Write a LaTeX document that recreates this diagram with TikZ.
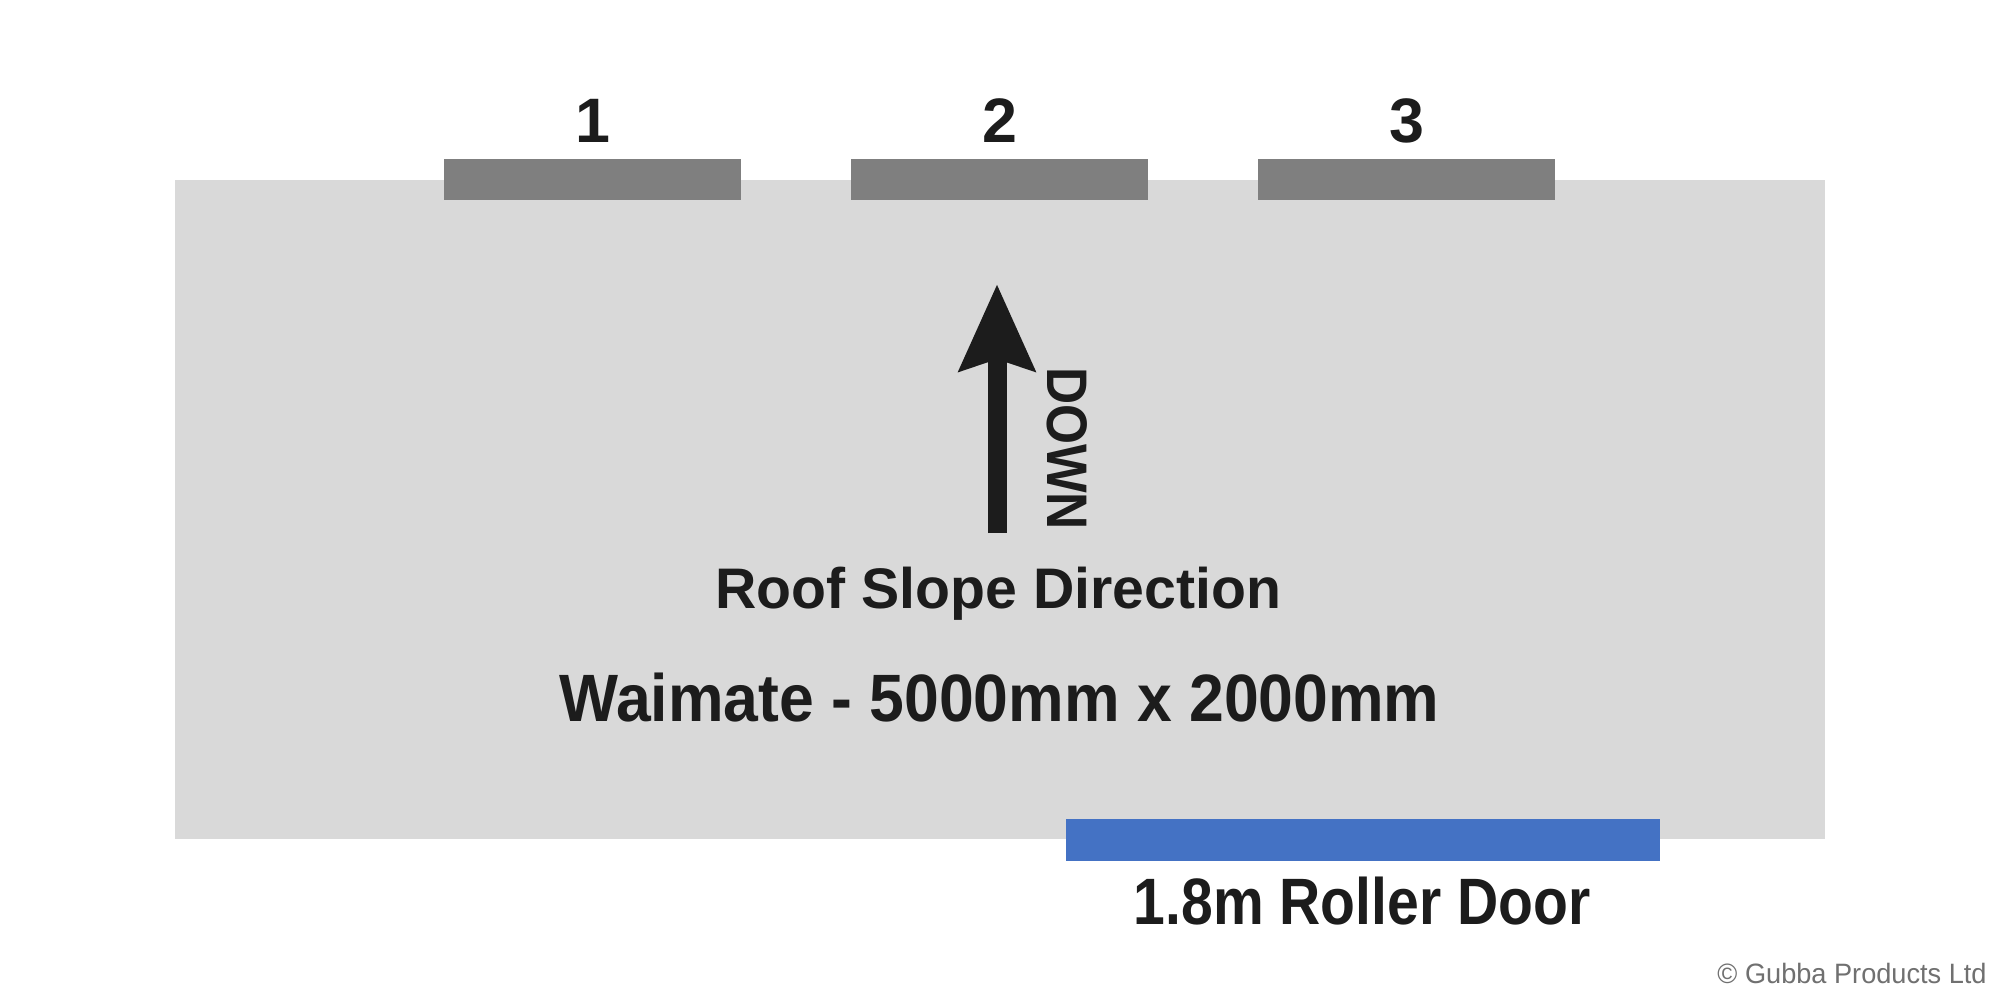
\documentclass[tikz,border=0pt]{standalone}
\usepackage{fontspec}
\setmainfont{Liberation Sans}
\usetikzlibrary{arrows.meta}
\definecolor{wallgray}{HTML}{D9D9D9}
\definecolor{bargray}{HTML}{7F7F7F}
\definecolor{doorblue}{HTML}{4472C4}
\definecolor{ink}{HTML}{1C1C1C}
\definecolor{copygray}{HTML}{707070}
\tikzset{
  lbl/.style={inner sep=0pt, outer sep=0pt, text=ink, font=\bfseries},
  window/.style={fill=bargray, draw=none},
}
\begin{document}
\begin{tikzpicture}[x=0.5pt, y=-0.5pt]
\path[use as bounding box, fill=white] (0,0) rectangle (2000,1000);
% shed outline
\fill[wallgray] (175,180) rectangle (1825,839);
% windows
\fill[window] (444,159) rectangle (741,200);
\fill[window] (851,159) rectangle (1148,200);
\fill[window] (1258,159) rectangle (1555,200);
% roller door
\fill[doorblue] (1066,819) rectangle (1660,861);
% window labels
\node[lbl, anchor=base, font=\bfseries\fontsize{31.4}{34}\selectfont] (n1) at (592.5,143) {1};
\node[lbl, anchor=base, font=\bfseries\fontsize{31.4}{34}\selectfont] (n2) at (999.5,143) {2};
\node[lbl, anchor=base, font=\bfseries\fontsize{31.4}{34}\selectfont] (n3) at (1406.5,143) {3};
% arrow
\coordinate (tail) at (997,533);
\coordinate (tip) at (997,284);
\draw[ink, line width=9.5pt, -{Stealth[length=43pt, width=37pt, inset=5.5pt]}] (tail) -- (tip);
\node[lbl, rotate=-90, font=\bfseries\fontsize{28.6}{30}\selectfont] (down) at (1067.5,448.5) {\scalebox{0.9}[1]{DOWN}};
% texts
\node[lbl, anchor=base, font=\bfseries\fontsize{28.6}{30}\selectfont] (roof) at (998.5,608) {Roof Slope Direction};
\node[lbl, anchor=base, font=\bfseries\fontsize{33.5}{36}\selectfont] (size) at (999.5,721) {\scalebox{0.933}[1]{Waimate - 5000mm x 2000mm}};
\node[lbl, anchor=base, font=\bfseries\fontsize{32.8}{35}\selectfont] (door) at (1362,924) {\scalebox{0.87}[1]{1.8m Roller Door}};
\node[inner sep=0pt, anchor=base east, text=copygray, font=\fontsize{14}{16}\selectfont] (copy) at (1987,983) {\scalebox{0.97}[1]{© Gubba Products Ltd}};
\end{tikzpicture}
\end{document}
